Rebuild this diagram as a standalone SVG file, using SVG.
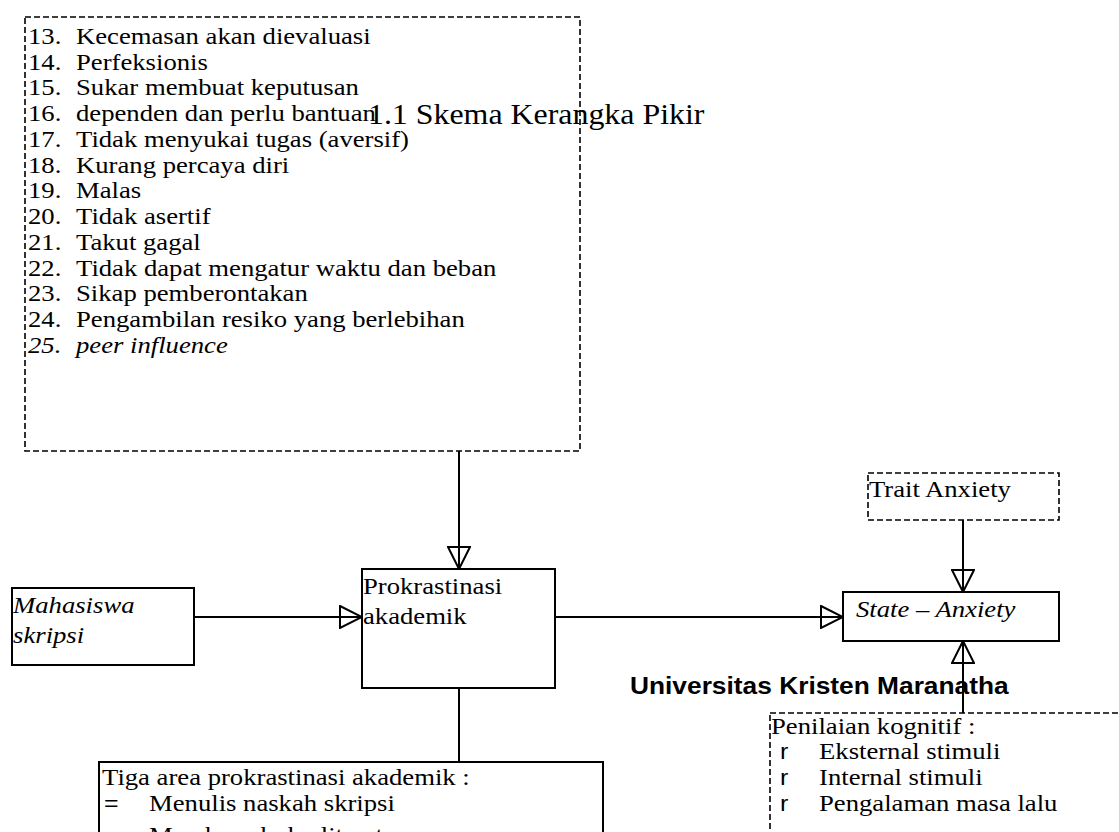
<svg xmlns="http://www.w3.org/2000/svg" width="1119" height="832" viewBox="0 0 1119 832">
<style>
  .box { fill: none; stroke: #000; stroke-width: 2; }
  .dbox { fill: none; stroke: #000; stroke-width: 1.6; stroke-dasharray: 6 3; }
  .conn { fill: none; stroke: #000; stroke-width: 2; }
  .t { font-family: "Liberation Serif", "Times New Roman", serif; font-size: 23.5px; fill: #000; }
  .i { font-style: italic; }
  .s { font-family: "Liberation Sans", Arial, sans-serif; font-size: 22px; fill: #000; }
  .title { font-family: "Liberation Serif", "Times New Roman", serif; font-size: 29px; fill: #000; }
  .uni { font-family: "Liberation Sans", Arial, sans-serif; font-size: 23.5px; font-weight: bold; fill: #000; }
</style>
<defs>
  <marker id="tri" viewBox="0 0 24 24" refX="23" refY="12" markerWidth="24" markerHeight="24" markerUnits="userSpaceOnUse" orient="auto">
    <path d="M1,1 L23,12 L1,23 Z" fill="none" stroke="#000" stroke-width="2"/>
  </marker>
</defs>
<rect width="1119" height="832" fill="#fff"/>

<g id="connectors">
  <line class="conn" x1="459" y1="451" x2="459" y2="569" marker-end="url(#tri)"/>
  <line class="conn" x1="459" y1="688" x2="459" y2="762"/>
  <line class="conn" x1="194" y1="617" x2="362" y2="617" marker-end="url(#tri)"/>
  <line class="conn" x1="555" y1="617" x2="843" y2="617" marker-end="url(#tri)"/>
  <line class="conn" x1="963" y1="520" x2="963" y2="592" marker-end="url(#tri)"/>
  <line class="conn" x1="963" y1="713" x2="963" y2="641" marker-end="url(#tri)"/>
</g>

<g id="factors">
  <rect class="dbox" x="25" y="17" width="555" height="434"/>
  <g transform="scale(1.135 1)">
    <text class="t" x="24.7" y="44">13.</text><text class="t" x="67" y="44">Kecemasan akan dievaluasi</text>
    <text class="t" x="24.7" y="69.7">14.</text><text class="t" x="67" y="69.7">Perfeksionis</text>
    <text class="t" x="24.7" y="95.5">15.</text><text class="t" x="67" y="95.5">Sukar membuat keputusan</text>
    <text class="t" x="24.7" y="121.2">16.</text><text class="t" x="67" y="121.2">dependen dan perlu bantuan</text>
    <text class="t" x="24.7" y="147">17.</text><text class="t" x="67" y="147">Tidak menyukai tugas (aversif)</text>
    <text class="t" x="24.7" y="172.7">18.</text><text class="t" x="67" y="172.7">Kurang percaya diri</text>
    <text class="t" x="24.7" y="198.5">19.</text><text class="t" x="67" y="198.5">Malas</text>
    <text class="t" x="24.7" y="224.2">20.</text><text class="t" x="67" y="224.2">Tidak asertif</text>
    <text class="t" x="24.7" y="250">21.</text><text class="t" x="67" y="250">Takut gagal</text>
    <text class="t" x="24.7" y="275.7">22.</text><text class="t" x="67" y="275.7">Tidak dapat mengatur waktu dan beban</text>
    <text class="t" x="24.7" y="301.5">23.</text><text class="t" x="67" y="301.5">Sikap pemberontakan</text>
    <text class="t" x="24.7" y="327.2">24.</text><text class="t" x="67" y="327.2">Pengambilan resiko yang berlebihan</text>
    <text class="t i" x="24.7" y="353">25.</text><text class="t i" x="67" y="353">peer influence</text>
  </g>
</g>

<g id="title">
  <text class="title" transform="scale(1.1 1)" x="334.5" y="124">1.1 Skema Kerangka Pikir</text>
</g>

<g id="prokrastinasi">
  <rect class="box" x="362" y="569" width="193" height="119"/>
  <g transform="scale(1.135 1)">
    <text class="t" x="319.8" y="594">Prokrastinasi</text>
    <text class="t" x="319.8" y="624">akademik</text>
  </g>
</g>

<g id="mahasiswa">
  <rect class="box" x="12" y="588" width="182" height="77"/>
  <g transform="scale(1.135 1)">
    <text class="t i" x="11.5" y="613">Mahasiswa</text>
    <text class="t i" x="11.5" y="643">skripsi</text>
  </g>
</g>

<g id="state-anxiety">
  <rect class="box" x="843" y="592" width="216" height="49"/>
  <text class="t i" transform="scale(1.135 1)" x="754.2" y="617">State – Anxiety</text>
</g>

<g id="trait-anxiety">
  <rect class="dbox" x="868" y="473" width="191" height="47"/>
  <text class="t" transform="scale(1.135 1)" x="765.6" y="497">Trait Anxiety</text>
</g>

<g id="footer">
  <text class="uni" transform="scale(1.12 1)" x="562.5" y="694">Universitas Kristen Maranatha</text>
</g>

<g id="penilaian">
  <rect class="dbox" x="770" y="713" width="380" height="200"/>
  <g transform="scale(1.135 1)">
    <text class="t" x="679.3" y="734">Penilaian kognitif :</text>
    <text class="s" x="687.2" y="759">r</text><text class="t" x="721.6" y="759">Eksternal stimuli</text>
    <text class="s" x="687.2" y="785">r</text><text class="t" x="721.6" y="785">Internal stimuli</text>
    <text class="s" x="687.2" y="811">r</text><text class="t" x="721.6" y="811">Pengalaman masa lalu</text>
  </g>
</g>

<g id="tiga-area">
  <rect class="box" x="99" y="762" width="504" height="150"/>
  <g transform="scale(1.135 1)">
    <text class="t" x="89.9" y="785">Tiga area prokrastinasi akademik :</text>
    <text class="s" x="91.6" y="811">=</text><text class="t" x="131.3" y="811">Menulis naskah skripsi</text>
    <text class="s" x="91.6" y="843">=</text><text class="t" x="131.3" y="843">Membaca buku literatur</text>
  </g>
</g>
</svg>
